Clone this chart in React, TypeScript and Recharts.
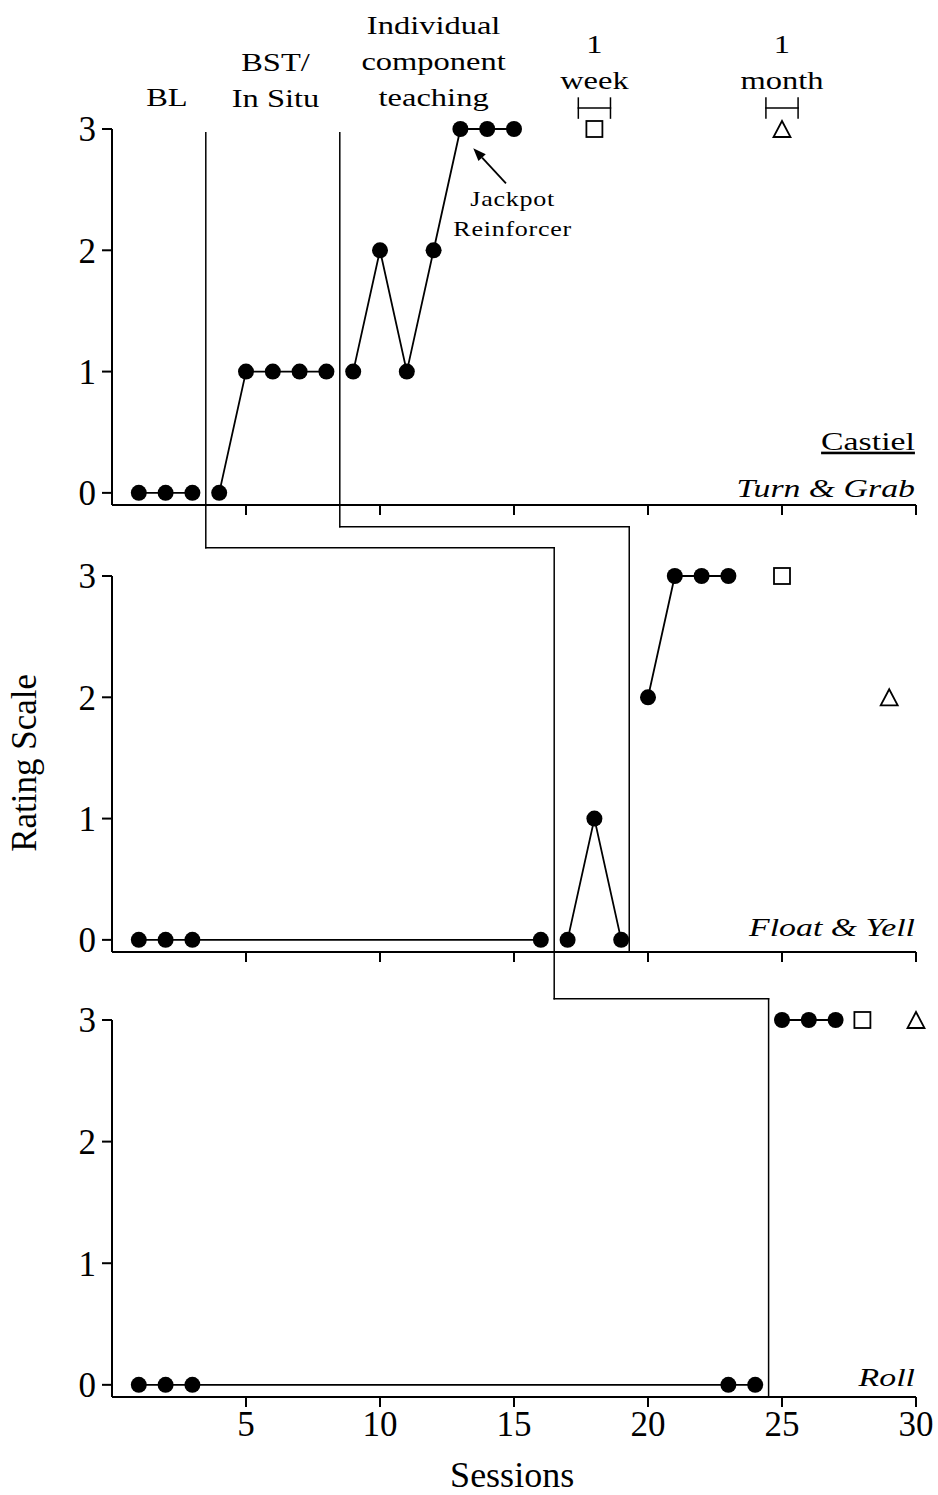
import React from 'react';
import {
    ComposedChart,
    Line,
    Scatter,
    XAxis,
    YAxis,
    ReferenceLine,
    ReferenceDot
} from 'recharts';

const FONT = '"Liberation Serif", "Times New Roman", serif';

// sessions on x, rating (0-3) on y
const sessionTicks = [5, 10, 15, 20, 25, 30];
const ratingTicks = [0, 1, 2, 3];

// Turn & Grab
const turnGrabBaseline = [
    { session: 1, rating: 0 }, { session: 2, rating: 0 }, { session: 3, rating: 0 }
];
const turnGrabBst = [
    { session: 4, rating: 0 }, { session: 5, rating: 1 }, { session: 6, rating: 1 },
    { session: 7, rating: 1 }, { session: 8, rating: 1 }
];
const turnGrabComponent = [
    { session: 9, rating: 1 }, { session: 10, rating: 2 }, { session: 11, rating: 1 },
    { session: 12, rating: 2 }, { session: 13, rating: 3 }, { session: 14, rating: 3 },
    { session: 15, rating: 3 }
];
const turnGrabWeek = [{ session: 18, rating: 3 }];
const turnGrabMonth = [{ session: 25, rating: 3 }];

// Float & Yell
const floatYellBaseline = [
    { session: 1, rating: 0 }, { session: 2, rating: 0 }, { session: 3, rating: 0 },
    { session: 16, rating: 0 }
];
const floatYellBst = [
    { session: 17, rating: 0 }, { session: 18, rating: 1 }, { session: 19, rating: 0 }
];
const floatYellComponent = [
    { session: 20, rating: 2 }, { session: 21, rating: 3 }, { session: 22, rating: 3 },
    { session: 23, rating: 3 }
];
const floatYellWeek = [{ session: 25, rating: 3 }];
const floatYellMonth = [{ session: 29, rating: 2 }];

// Roll
const rollBaseline = [
    { session: 1, rating: 0 }, { session: 2, rating: 0 }, { session: 3, rating: 0 },
    { session: 23, rating: 0 }, { session: 24, rating: 0 }
];
const rollBst = [
    { session: 25, rating: 3 }, { session: 26, rating: 3 }, { session: 27, rating: 3 }
];
const rollWeek = [{ session: 28, rating: 3 }];
const rollMonth = [{ session: 30, rating: 3 }];

// phase change lines (session boundaries per panel)
const phaseLineA = [3.5, 16.5, 24.5];
const phaseLineB = [8.5, 19.3];

const dot = (p: any) => <circle key={`d-${p.index}`} cx={p.cx} cy={p.cy} r={8} fill="#000" />;

const square = (p: any) => (
    <rect x={p.cx - 8} y={p.cy - 8} width={16} height={16} fill="#fff" stroke="#000" strokeWidth={1.8} />
);

const triangle = (p: any) => (
    <polygon
        points={`${p.cx},${p.cy - 8} ${p.cx - 8.5},${p.cy + 8} ${p.cx + 8.5},${p.cy + 8}`}
        fill="#fff"
        stroke="#000"
        strokeWidth={1.8}
    />
);

interface TextOpts {
    size: number;
    sx?: number;
    anchor?: 'start' | 'middle' | 'end';
    italic?: boolean;
    lh?: number;
    underline?: boolean;
    rotate?: boolean;
    spacing?: number;
}

const textShape = (lines: string[], o: TextOpts) => (p: any) => (
    <g transform={`translate(${p.cx},${p.cy})${o.rotate ? ' rotate(-90)' : ''} scale(${o.sx ?? 1},1)`}>
        <text
            x={0}
            y={0}
            textAnchor={o.anchor ?? 'middle'}
            fontFamily={FONT}
            fontSize={o.size}
            fontStyle={o.italic ? 'italic' : 'normal'}
            letterSpacing={o.spacing ?? 0}
            textDecoration={o.underline ? 'underline' : 'none'}
            fill="#000"
        >
            {lines.map((t, i) => (
                <tspan key={i} x={0} dy={i === 0 ? 0 : o.lh ?? 36}>{t}</tspan>
            ))}
        </text>
    </g>
);

const arrowShape = (p: any) => {
    const { x1, y1, x2, y2 } = p;
    const a = Math.atan2(y2 - y1, x2 - x1);
    const len = 13;
    const w = 5;
    const bx = x2 - len * Math.cos(a);
    const by = y2 - len * Math.sin(a);
    const px = -Math.sin(a) * w;
    const py = Math.cos(a) * w;
    return (
        <g>
            <line x1={x1} y1={y1} x2={bx} y2={by} stroke="#000" strokeWidth={1.8} />
            <polygon points={`${x2},${y2} ${bx + px},${by + py} ${bx - px},${by - py}`} fill="#000" />
        </g>
    );
};

const phaseStroke = { stroke: '#000', strokeWidth: 1.5, strokeLinecap: 'square' as const, ifOverflow: 'visible' as const };

const seg = (x1: number, y1: number, x2: number, y2: number, key: string) => (
    <ReferenceLine key={key} segment={[{ x: x1, y: y1 }, { x: x2, y: y2 }]} {...phaseStroke} />
);

const note = (x: number, y: number, lines: string[], o: TextOpts, key: string) => (
    <ReferenceDot key={key} x={x} y={y} r={0} ifOverflow="visible" shape={textShape(lines, o)} />
);

const series = (data: any[], key: string) => (
    <Line
        key={key}
        data={data}
        dataKey="rating"
        stroke="#000"
        strokeWidth={1.8}
        dot={dot}
        activeDot={false}
        isAnimationActive={false}
        legendType="none"
    />
);

const points = (data: any[], shape: any, key: string) => (
    <Scatter key={key} data={data} dataKey="rating" shape={shape} isAnimationActive={false} legendType="none" />
);

const axes = (showLabels: boolean, xHeight: number) => [
    <XAxis
        key="x"
        dataKey="session"
        type="number"
        domain={[0, 30]}
        ticks={sessionTicks}
        interval={0}
        height={xHeight}
        tickSize={10}
        tickMargin={4}
        axisLine={{ stroke: '#000', strokeWidth: 2 }}
        tickLine={{ stroke: '#000', strokeWidth: 2 }}
        tick={{ fill: '#000', fontSize: 35, fontFamily: FONT }}
        tickFormatter={(v) => (showLabels ? String(v) : '')}
    />,
    <YAxis
        key="y"
        dataKey="rating"
        type="number"
        domain={[-0.1, 3]}
        ticks={ratingTicks}
        interval={0}
        width={60}
        tickSize={10}
        tickMargin={6}
        axisLine={{ stroke: '#000', strokeWidth: 2 }}
        tickLine={{ stroke: '#000', strokeWidth: 2 }}
        tick={{ fill: '#000', fontSize: 35, fontFamily: FONT }}
    />
];

const topLabel: TextOpts = { size: 26, sx: 1.25, lh: 36 };
const panelName: TextOpts = { size: 26, sx: 1.3, anchor: 'end', italic: true };

const App: React.FC = () => {
    return (
        <div style={{ position: 'absolute', left: 0, top: 0, width: 938, height: 1495, background: '#fff' }}>
            <style>{`.recharts-surface { overflow: visible; }`}</style>

            <div style={{ position: 'absolute', left: 0, top: 0 }}>
                <ComposedChart width={938} height={540} margin={{ top: 129, right: 22, bottom: 15, left: 52 }}>
                    {axes(false, 20)}
                    {seg(phaseLineA[0], 2.97, phaseLineA[0], -0.453, 'a1')}
                    {seg(phaseLineA[0], -0.453, phaseLineA[1], -0.453, 'a1h')}
                    {seg(phaseLineB[0], 2.97, phaseLineB[0], -0.28, 'b1')}
                    {seg(phaseLineB[0], -0.28, phaseLineB[1], -0.28, 'b1h')}

                    {seg(17.4, 3.173, 18.6, 3.173, 'wk')}
                    {seg(17.4, 3.09, 17.4, 3.255, 'wkl')}
                    {seg(18.6, 3.09, 18.6, 3.255, 'wkr')}
                    {seg(24.4, 3.173, 25.6, 3.173, 'mo')}
                    {seg(24.4, 3.09, 24.4, 3.255, 'mol')}
                    {seg(25.6, 3.09, 25.6, 3.255, 'mor')}

                    <ReferenceLine
                        segment={[{ x: 14.7, y: 2.552 }, { x: 13.48, y: 2.842 }]}
                        ifOverflow="visible"
                        shape={arrowShape}
                    />

                    {series(turnGrabBaseline, 'tg1')}
                    {series(turnGrabBst, 'tg2')}
                    {series(turnGrabComponent, 'tg3')}
                    {points(turnGrabWeek, square, 'tgw')}
                    {points(turnGrabMonth, triangle, 'tgm')}

                    {note(2.05, 3.19, ['BL'], topLabel, 'n1')}
                    {note(6.1, 3.478, ['BST/', 'In Situ'], topLabel, 'n2')}
                    {note(12.0, 3.783, ['Individual', 'component', 'teaching'], topLabel, 'n3')}
                    {note(18.0, 3.626, ['1', 'week'], topLabel, 'n4')}
                    {note(25.0, 3.626, ['1', 'month'], topLabel, 'n5')}
                    {note(14.95, 2.365, ['Jackpot', 'Reinforcer'], { size: 21, sx: 1.24, lh: 30, spacing: 0.6 }, 'n6')}
                    {note(29.96, 0.354, ['Castiel'], { size: 26, sx: 1.3, anchor: 'end', underline: true }, 'n7')}
                    {note(29.96, -0.033, ['Turn & Grab'], panelName, 'n8')}
                </ComposedChart>
            </div>

            <div style={{ position: 'absolute', left: 0, top: 540 }}>
                <ComposedChart width={938} height={445} margin={{ top: 36, right: 22, bottom: 13, left: 52 }}>
                    {axes(false, 20)}
                    {seg(phaseLineA[1], 3.231, phaseLineA[1], -0.486, 'a2')}
                    {seg(phaseLineA[1], -0.486, phaseLineA[2], -0.486, 'a2h')}
                    {seg(phaseLineB[1], 3.404, phaseLineB[1], -0.1, 'b2')}

                    {series(floatYellBaseline, 'fy1')}
                    {series(floatYellBst, 'fy2')}
                    {series(floatYellComponent, 'fy3')}
                    {points(floatYellWeek, square, 'fyw')}
                    {points(floatYellMonth, triangle, 'fym')}

                    {note(29.96, 0.033, ['Float & Yell'], panelName, 'm1')}
                    {note(-2.836, 1.459, ['Rating Scale'], { size: 35, rotate: true }, 'm2')}
                </ComposedChart>
            </div>

            <div style={{ position: 'absolute', left: 0, top: 985 }}>
                <ComposedChart width={938} height={510} margin={{ top: 35, right: 22, bottom: 48, left: 52 }}>
                    {axes(true, 50)}
                    {seg(phaseLineA[2], 3.173, phaseLineA[2], -0.1, 'a3')}

                    {series(rollBaseline, 'r1')}
                    {series(rollBst, 'r2')}
                    {points(rollWeek, square, 'rw')}
                    {points(rollMonth, triangle, 'rm')}

                    {note(29.96, -0.008, ['Roll'], panelName, 'k1')}
                    {note(14.93, -0.838, ['Sessions'], { size: 36 }, 'k2')}
                </ComposedChart>
            </div>
        </div>
    );
};

export default App;
